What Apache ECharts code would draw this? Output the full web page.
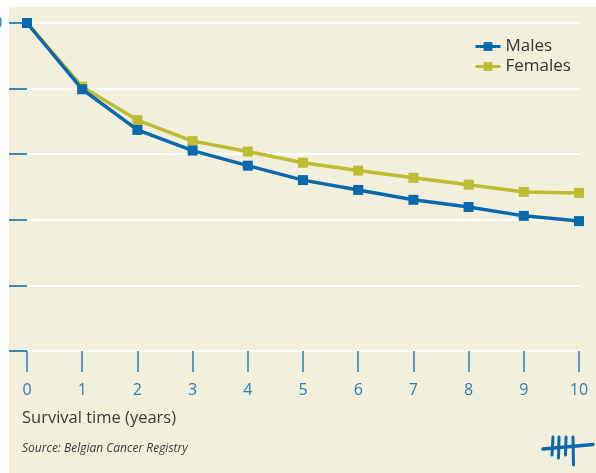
<!DOCTYPE html>
<html>
<head>
<meta charset="utf-8">
<script src="https://cdn.jsdelivr.net/npm/echarts@6/dist/echarts.min.js"></script>
<style>
html,body{margin:0;padding:0;background:#ffffff;}
#c{width:596px;height:473px;}
</style>
</head>
<body>
<div id="c"></div>
<script>
var years = ['0','1','2','3','4','5','6','7','8','9','10'];
var males = [100, 79.8, 67.4, 61.1, 56.5, 52.1, 49.1, 46.1, 43.9, 41.2, 39.6];
var females = [100, 80.6, 70.4, 64.0, 60.8, 57.4, 55.0, 52.8, 50.7, 48.5, 48.2];
var yTicks = {min: 0, max: 100, interval: 20};

var BLUE = '#0a69ad';
var OLIVE = '#bcbd32';
var LABEL = '#2a7fba';
var FONT = 'Open Sans';

var chart = echarts.init(document.getElementById('c'), null, {renderer: 'canvas'});
chart.setOption({
  animation: false,
  backgroundColor: '#ffffff',
  textStyle: {fontFamily: FONT},
  grid: {left: 27, right: 17, top: 23, bottom: 122, containLabel: false, outerBoundsMode: 'none'},
  graphic: [
    {type: 'rect', z: -10, silent: true, shape: {x: 9, y: 7, width: 600, height: 480}, style: {fill: '#f2f0dc'}},
    {type: 'text', left: 22, top: 410, style: {text: 'Survival time (years)', font: '16.5px "Open Sans"', fill: '#3a3a3a'}},
    {type: 'text', left: 22, top: 443, style: {text: 'Source: Belgian Cancer Registry', font: 'italic 12px "Open Sans"', fill: '#3a3a3a'}},
    {type: 'group', children: [
      {type: 'line', shape: {x1: 543, y1: 449, x2: 593, y2: 444.5}, style: {stroke: BLUE, lineWidth: 3.5, lineCap: 'round'}},
      {type: 'line', shape: {x1: 553, y1: 437, x2: 552, y2: 455}, style: {stroke: BLUE, lineWidth: 3, lineCap: 'round'}},
      {type: 'line', shape: {x1: 559, y1: 437, x2: 558.5, y2: 458}, style: {stroke: BLUE, lineWidth: 3, lineCap: 'round'}},
      {type: 'line', shape: {x1: 566, y1: 437, x2: 565.5, y2: 455}, style: {stroke: BLUE, lineWidth: 3, lineCap: 'round'}},
      {type: 'line', shape: {x1: 573, y1: 437, x2: 573.5, y2: 465}, style: {stroke: BLUE, lineWidth: 3, lineCap: 'round'}}
    ]}
  ],
  legend: {
    data: ['Males', 'Females'],
    orient: 'vertical',
    left: 469,
    top: 33,
    itemWidth: 25,
    itemHeight: 11,
    itemGap: 3,
    lineStyle: {width: 3},
    textStyle: {fontSize: 17, color: '#333333', fontFamily: FONT, lineHeight: 17}
  },
  xAxis: {
    type: 'category',
    data: years,
    boundaryGap: false,
    axisLine: {show: false},
    axisTick: {show: true, length: 21, lineStyle: {color: '#2a7fba', width: 1.5}},
    axisLabel: {color: LABEL, fontSize: 16, margin: 31, fontFamily: FONT},
    splitLine: {show: false}
  },
  yAxis: {
    type: 'value',
    min: yTicks.min,
    max: yTicks.max,
    interval: yTicks.interval,
    axisLine: {show: false},
    axisTick: {show: true, length: 18, lineStyle: {color: '#3d8ab8', width: 2}},
    axisLabel: {color: LABEL, fontSize: 16, margin: 52, align: 'left', fontFamily: FONT},
    splitLine: {show: true, lineStyle: {color: '#ffffff', width: 2}}
  },
  series: [
    {
      name: 'Females', type: 'line', data: females, z: 2,
      symbol: 'rect', symbolSize: 10, showSymbol: true,
      lineStyle: {color: OLIVE, width: 3.5},
      itemStyle: {color: OLIVE}
    },
    {
      name: 'Males', type: 'line', data: males, z: 3,
      symbol: 'rect', symbolSize: 10, showSymbol: true,
      lineStyle: {color: BLUE, width: 3.5},
      itemStyle: {color: BLUE}
    }
  ]
});
</script>
</body>
</html>
